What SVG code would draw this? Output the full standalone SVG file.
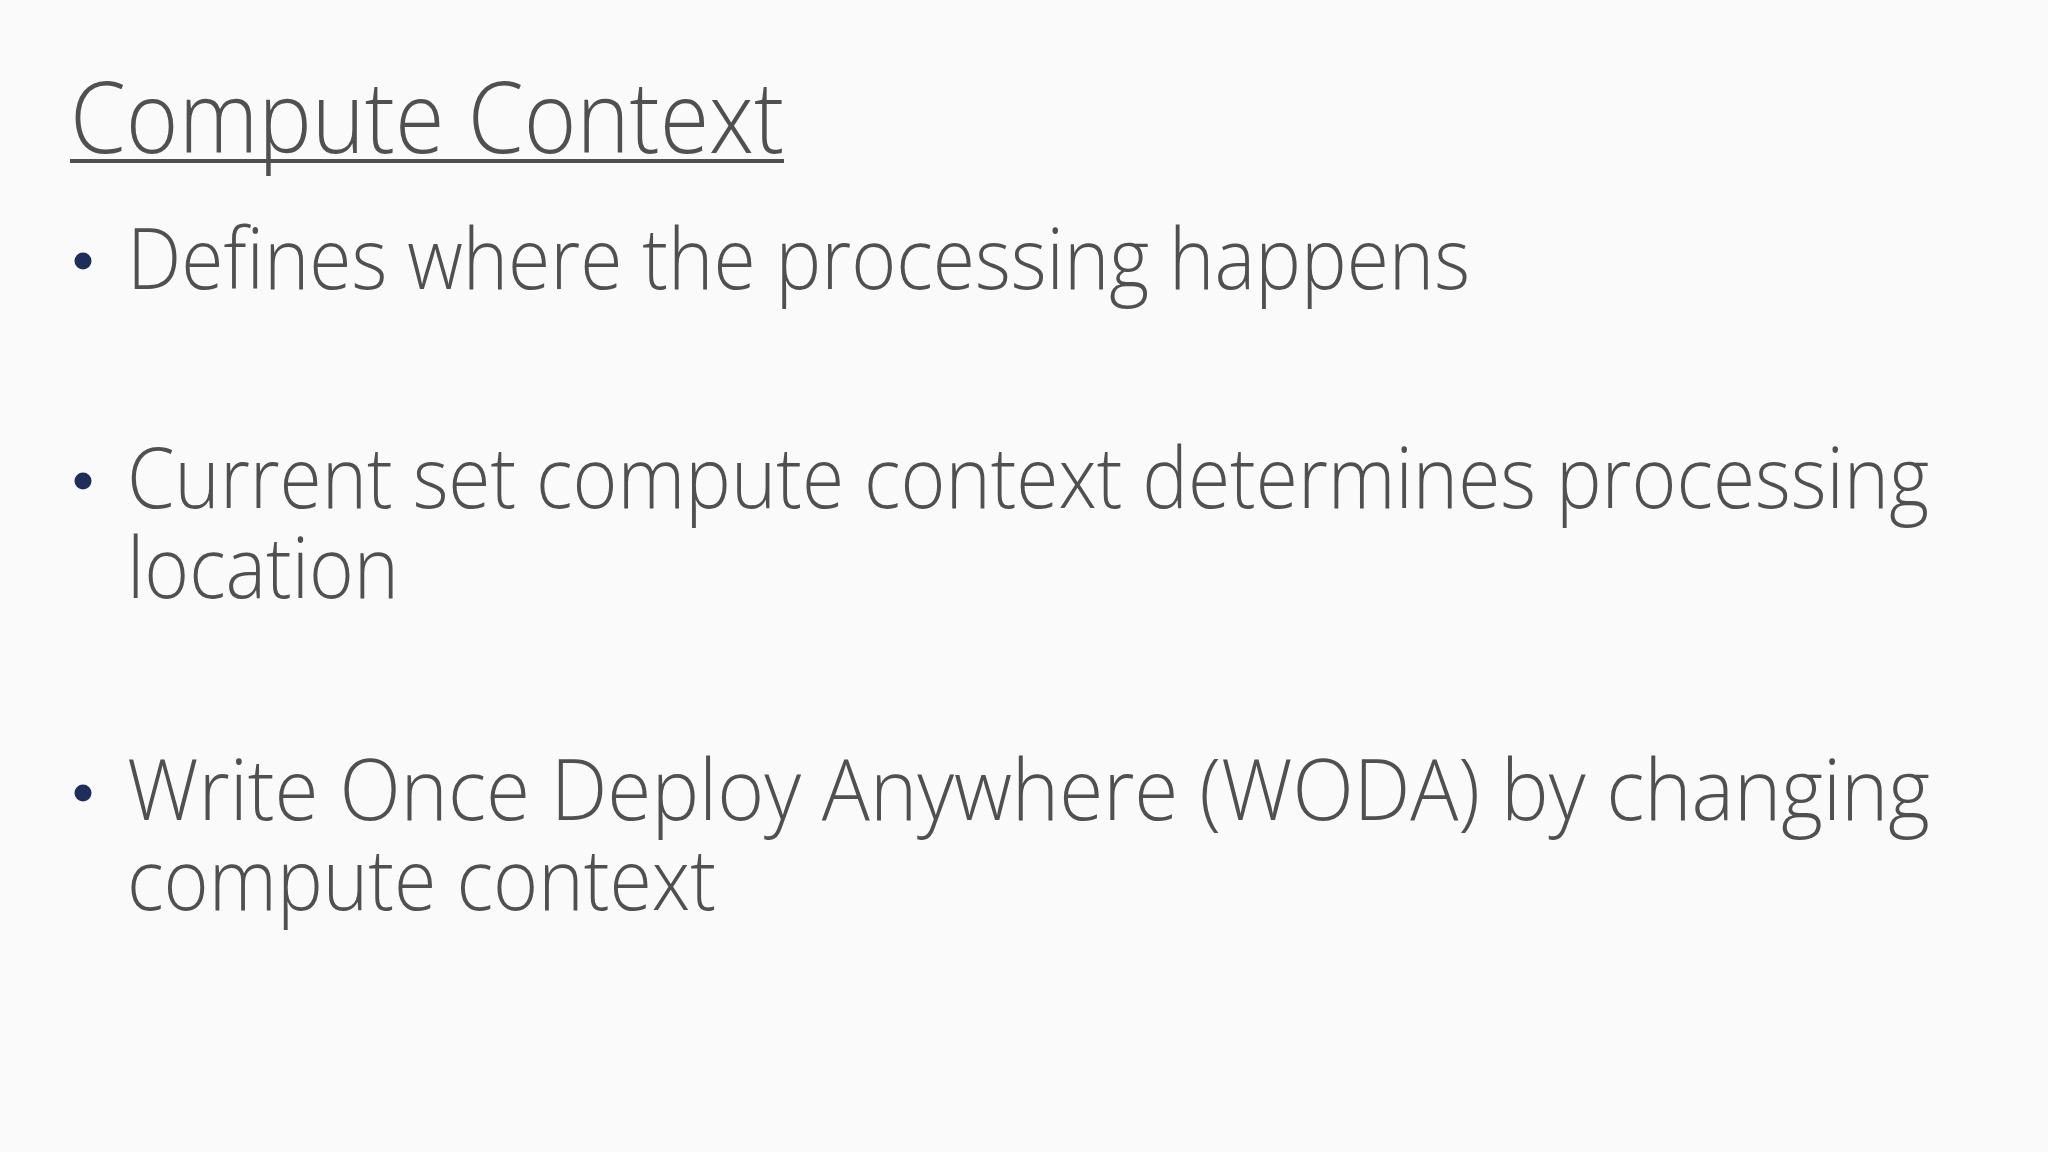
<svg xmlns="http://www.w3.org/2000/svg" width="2048" height="1152" viewBox="0 0 2048 1152">
<style>
.t{font-family:"Open Sans","Liberation Sans",sans-serif;font-weight:300;fill:#505050}
.b{font-size:84px}
.d{fill:#1f2d5a}
</style>
<rect width="2048" height="1152" fill="#fafafa"/>
<g id="title">
<text class="t" x="70" y="153" font-size="100" textLength="714" lengthAdjust="spacingAndGlyphs">Compute Context</text>
<rect x="70" y="159" width="714" height="4" fill="#505050"/>
</g>
<g id="bullet1">
<circle class="d" cx="83" cy="261" r="8.5"/>
<text class="t b" x="127" y="289" textLength="1343" lengthAdjust="spacingAndGlyphs">Defines where the processing happens</text>
</g>
<g id="bullet2">
<circle class="d" cx="83" cy="481" r="8.5"/>
<text class="t b" x="127" y="508" textLength="1802" lengthAdjust="spacingAndGlyphs">Current set compute context determines processing</text>
<text class="t b" x="127" y="598" textLength="272" lengthAdjust="spacingAndGlyphs">location</text>
</g>
<g id="bullet3">
<circle class="d" cx="83" cy="793" r="8.5"/>
<text class="t b" x="127" y="820" textLength="1803" lengthAdjust="spacingAndGlyphs">Write Once Deploy Anywhere (WODA) by changing</text>
<text class="t b" x="127" y="910" textLength="589" lengthAdjust="spacingAndGlyphs">compute context</text>
</g>
</svg>
